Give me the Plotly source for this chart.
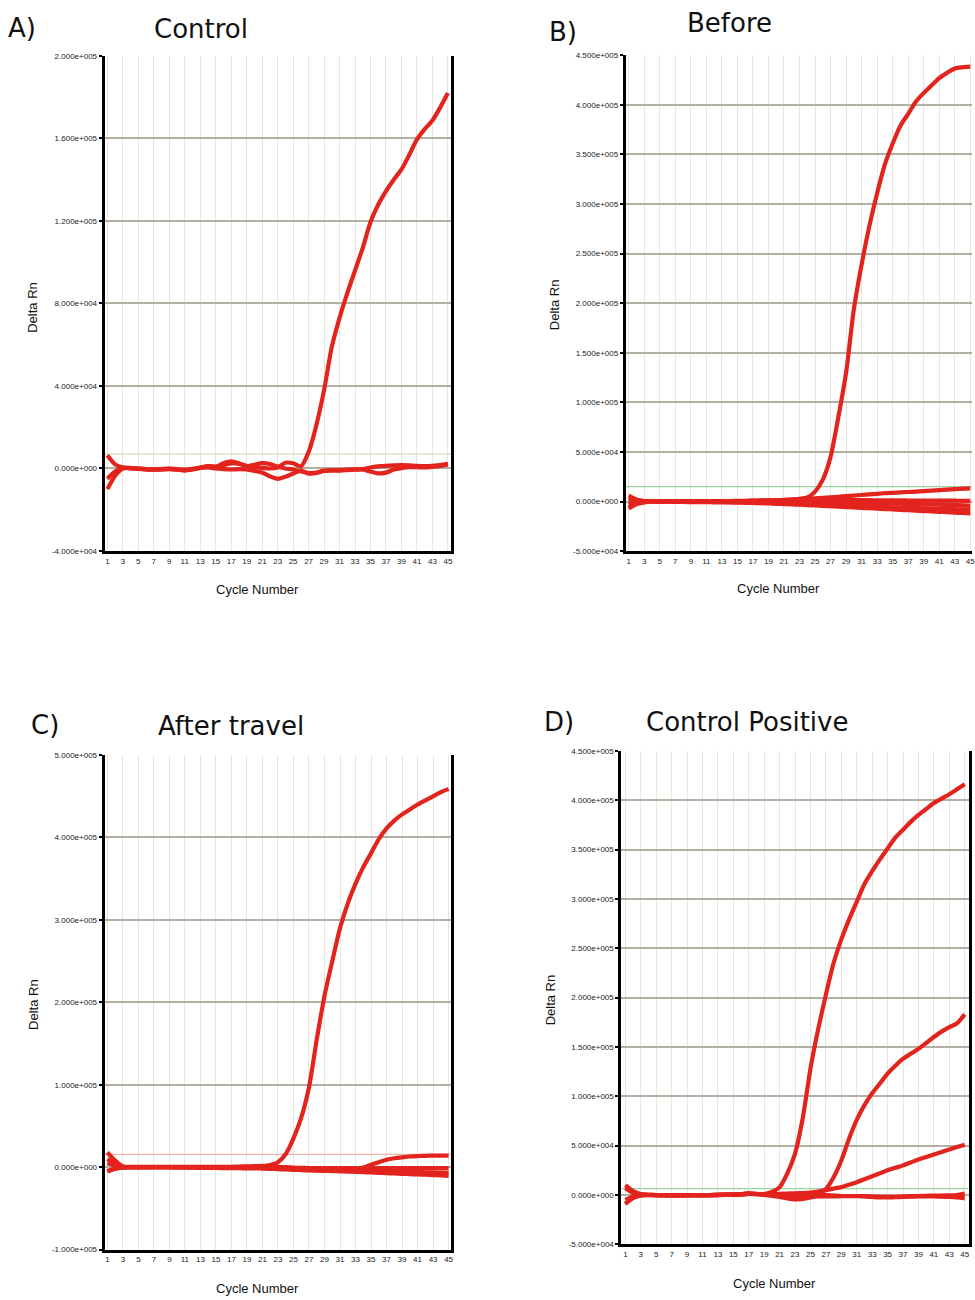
import plotly.graph_objects as go

# ---------------- data (Delta Rn values in thousands) ----------------
cycles = list(range(1, 46))
x_ticks = [1, 3, 5, 7, 9, 11, 13, 15, 17, 19, 21, 23, 25, 27, 29, 31, 33, 35, 37, 39, 41, 43, 45]

# Panel A - Control
A_amp = [-5, -1.5, 0.3, 0.3, 0, -0.3, -0.5, -0.4, -0.2, -0.6, -0.8, -0.3, 0.5, 1.2, 0.8, 1.5, 2.5, 2.2, 1.2, 0.5,
         0.3, 0, 0.5, 2.8, 2.5, 1.0, 8, 21, 38, 59, 73, 85, 96, 107, 119.5, 128, 134.5, 140, 145, 152,
         159.5, 164.5, 168.7, 175, 182]
A_f1 = [6.4, 2, 0.5, 0, -0.2, -0.5, -0.6, -0.5, -0.3, -0.5, -1, -0.5, 0.3, 1, 0.8, 2.5, 3.4, 2.5, 1.2, 1.8,
        2.6, 2.2, 0.8, 0, -0.5, -1.5, -2.2, -2, -1, -0.8, -1, -0.8, -0.6, -0.3, 0.5, 1, 1.3, 1.5, 1.6, 1.5,
        1.3, 1.2, 1.3, 1.6, 2.2]
A_f2 = [-10, -3.5, 0, 0.2, 0, -0.4, -0.5, -0.3, 0, -0.3, -0.6, -0.2, 0.3, 0.5, 0, -0.3, -0.5, -0.3, -0.5, -1.2,
        -2, -3.8, -5, -4, -2.5, -1, -2.5, -2.2, -1.2, -1, -0.8, -0.6, -0.4, -0.5, -1.5, -2.4, -2, -0.5, 0.2, 0.6,
        0.6, 0.5, 0.8, 1.2, 2]
A_threshold = 7
A_yticks = [-40000, 0, 40000, 80000, 120000, 160000, 200000]

# Panel B - Before
B_amp = [-7, -2.5, -0.5, 0, 0, 0, 0, 0, 0, 0, 0, 0, 0, 0.2, 0.3, 0.5, 0.6, 0.8, 1, 1.2,
         1.5, 2, 2.8, 4, 10, 22, 45, 85, 130, 194, 239, 278, 311, 340, 361, 379, 391, 403.5, 412, 419.6,
         427, 432.3, 436.8, 438, 438.6]
B_rise = [6, 2, 0.5, 0.2, 0.2, 0.3, 0.3, 0.3, 0.3, 0.3, 0.4, 0.4, 0.5, 0.5, 0.6, 0.7, 0.8, 1, 1.2, 1.4,
          1.7, 2, 2.4, 2.8, 3.3, 3.8, 4.3, 4.8, 5.4, 6, 6.6, 7.2, 7.8, 8.4, 8.8, 9.2, 9.6, 10, 10.5, 11,
          11.5, 12, 12.5, 13, 13.3]
B_b1 = [3, 1, 0.3, 0.2, 0.2, 0.3, 0.3, 0.3, 0.2, 0.2, 0.2, 0.2, 0.2, 0.3, 0.4, 0.5, 0.6, 0.8, 1, 1.2,
        1.4, 1.5, 1.6, 1.6, 1.6, 1.6, 1.5, 1.5, 1.4, 1.4, 1.3, 1.3, 1.2, 1.2, 1.1, 1.1, 1, 1, 1, 0.9,
        0.9, 0.8, 0.8, 0.7, 0.6]
B_b2 = [0, -0.5, -0.2, 0, 0, 0, 0, 0, -0.1, -0.1, -0.2, -0.2, -0.2, -0.2, -0.2, -0.2, -0.3, -0.3, -0.4, -0.5,
        -0.6, -0.7, -0.8, -0.9, -1, -1.1, -1.2, -1.3, -1.4, -1.5, -1.6, -1.7, -1.8, -1.9, -2, -2.2, -2.4, -2.6, -2.8, -3,
        -3.2, -3.4, -3.6, -3.8, -4]
B_b3 = [-3, -1, -0.5, -0.3, -0.3, -0.3, -0.3, -0.3, -0.3, -0.4, -0.4, -0.5, -0.5, -0.6, -0.7, -0.8, -0.9, -1.1, -1.3, -1.5,
        -1.7, -2, -2.3, -2.6, -3, -3.3, -3.6, -3.9, -4.2, -4.5, -4.8, -5.1, -5.4, -5.6, -5.8, -6, -6.3, -6.6, -6.9, -7.1,
        -7.3, -7.5, -7.7, -7.9, -8]
B_b4 = [-6.5, -2.5, -0.8, -0.5, -0.5, -0.5, -0.5, -0.5, -0.6, -0.6, -0.7, -0.8, -0.9, -1, -1.1, -1.3, -1.5, -1.7, -2, -2.3,
        -2.6, -2.9, -3.2, -3.6, -4, -4.4, -4.8, -5.2, -5.6, -6, -6.4, -6.8, -7.2, -7.6, -8, -8.4, -8.8, -9.2, -9.6, -10,
        -10.4, -10.8, -11.2, -11.6, -12]
B_threshold = 15
B_yticks = [-50000, 0, 50000, 100000, 150000, 200000, 250000, 300000, 350000, 400000, 450000]

# Panel C - After travel
C_amp = [-5, -1.5, -0.3, 0, 0, 0, 0.2, 0.2, 0.2, 0.2, 0.2, 0.2, 0.1, 0.1, 0, 0, 0, 0, 0.2, 0.5,
         1, 2.5, 6, 16, 35, 60, 97, 155, 208, 250, 290, 320, 344, 364, 381, 398, 411, 420.5, 428, 434,
         440, 445, 450, 455, 459]
C_rise = [10, 4, 0.5, 0, 0, 0, 0, 0, 0, 0, 0, 0, 0, 0, 0, -0.2, -0.3, -0.5, -0.6, -0.8,
          -1, -1.2, -1.4, -1.6, -1.8, -2, -2.2, -2.4, -2.5, -2.6, -2.6, -2.5, -2, -0.5, 3, 6, 9, 10.8, 12, 13,
          13.5, 13.8, 14, 14, 14]
C_b1 = [18, 8, 1, 0.5, 0.5, 0.5, 0.5, 0.5, 0.5, 0.5, 0.5, 0.5, 0.5, 0.5, 0.5, 0.5, 0.5, 0.8, 1, 1.2,
        1.5, 1, 0.5, 0, -0.5, -0.8, -1, -1, -1, -1, -1, -1, -1, -1, -1, -1, -1, -1, -1, -1,
        -1, -1.2, -1.2, -1.2, -1.2]
C_b2 = [5, 2, 0, 0, 0, 0, 0, 0, 0, 0, 0, 0, -0.2, -0.2, -0.3, -0.4, -0.5, -0.6, -0.7, -0.8,
        -1, -1.3, -1.6, -2, -2.3, -2.6, -3, -3.3, -3.5, -3.7, -4, -4.2, -4.4, -4.6, -4.8, -5, -5.2, -5.4, -5.6, -5.8,
        -6, -6.2, -6.4, -6.6, -6.8]
C_b3 = [-5, -2, -0.5, -0.3, -0.3, -0.3, -0.3, -0.3, -0.4, -0.5, -0.6, -0.7, -0.8, -0.9, -1, -1.1, -1.2, -1.3, -1.4, -1.5,
        -1.7, -2, -2.4, -2.8, -3.2, -3.6, -4, -4.3, -4.5, -4.7, -5, -5.3, -5.6, -6, -6.4, -6.8, -7.2, -7.6, -8, -8.4,
        -8.8, -9.2, -9.6, -10, -10.5]
C_threshold = 15.5
C_yticks = [-100000, 0, 100000, 200000, 300000, 400000, 500000]

# Panel D - Control Positive
D_amp1 = [-9, -3, -0.5, 0, 0, -0.2, -0.3, -0.3, -0.2, 0, 0, 0, 0.2, 0.3, 0.5, 0.8, 1.2, 0.8, 1, 3,
          8, 22, 42, 78, 128, 168, 203, 235, 259, 279, 297, 315, 328, 340, 351, 362, 370, 378, 385, 391,
          397, 401.5, 406, 411, 416]
D_amp2 = [-5, -1.5, 0, 0, 0, 0, 0, -0.2, -0.2, 0, 0, 0, 0.2, 0.3, 0.5, 0.8, 1.5, 1, 0.5, 0,
          -1, -2.5, -3.5, -3, -1.5, 1, 6, 18, 35, 57, 76, 91, 103, 113, 123, 131, 138, 143, 148, 154,
          160, 165.5, 170, 174, 183]
D_amp3 = [10, 4, 1, 0.3, 0, 0, 0, 0, 0, 0, 0, 0, 0.3, 0.5, 0.6, 0.8, 1, 1, 1, 1,
          1.2, 1.5, 1.8, 2, 2.5, 3.5, 5, 6.5, 8, 10.5, 13, 16, 19, 22, 25, 27.5, 30, 33, 36, 38.5,
          41, 43.5, 46, 48.5, 51]
D_f1 = [7, 2, 0.3, 0, -0.3, -0.5, -0.5, -0.3, -0.3, -0.5, -0.5, -0.3, 0, 0.3, 0.2, 0.8, 2, 1.2, 0.5, 0,
        -0.5, -1, -1.5, -1.5, -0.8, 0, 0, -0.5, -1, -1, -1, -1.2, -1.5, -1.8, -2, -1.8, -1.5, -1.2, -1, -0.8,
        -0.6, -0.5, -0.3, 0, 1.5]
D_f2 = [-9, -3, -0.5, -0.2, -0.3, -0.5, -0.7, -0.7, -0.5, -0.5, -0.7, -0.5, -0.3, 0, 0, 0.3, 1, 0.8, 0, -1,
        -2, -3.5, -4.5, -4, -2.5, -1.5, -1.5, -1.5, -1.2, -1.2, -1.2, -1.5, -2, -2.5, -2.5, -2.2, -2, -1.8, -1.5, -1.5,
        -1.5, -1.8, -2, -2.5, -3.5]
D_threshold = 6.5
D_yticks = [-50000, 0, 50000, 100000, 150000, 200000, 250000, 300000, 350000, 400000, 450000]

# ---------------- layout helpers ----------------
W, H = 975, 1300
RED = '#e3231d'
GRID_H = '#b3afa2'
GRID_V = '#e6e6dc'


def px(x):
    return x / W


def py(y):
    return 1 - y / H


def sci(v):
    m, e = f"{v:.3e}".split('e')
    return f"{m}e{e[0]}{int(e[1:]):03d}"


panels = [
    dict(key='', curves=[A_amp, A_f1, A_f2], thr=A_threshold, thr_col='#c9dcc0', yticks=A_yticks,
         xdom=(105, 452.7), ydom=(550.8, 52.3), xr=(0.652, 45.438), mirror=True,
         letter='A)', lpos=(22.5, 24), title='Control', tpos=(201.5, 25),
         ytpos=(33, 305), xtpos=(258, 590)),
    dict(key='2', curves=[B_amp, B_rise, B_b1, B_b2, B_b3, B_b4], thr=B_threshold, thr_col='#9bd39b',
         yticks=B_yticks, xdom=(627.7, 975), ydom=(550.9, 51.7), xr=(0.615, 45.22), mirror=False,
         letter='B)', lpos=(565, 28), title='Before', tpos=(731.7, 19),
         ytpos=(557, 303), xtpos=(781, 589)),
    dict(key='3', curves=[C_amp, C_rise, C_b1, C_b2, C_b3], thr=C_threshold, thr_col='#f2b3ab',
         yticks=C_yticks, xdom=(105, 452.7), ydom=(1254.3, 756.3), xr=(0.653, 45.35), mirror=True,
         letter='C)', lpos=(45, 726), title='After travel', tpos=(232, 727),
         ytpos=(33, 1007), xtpos=(258, 1293)),
    dict(key='4', curves=[D_amp1, D_amp2, D_amp3, D_f1, D_f2], thr=D_threshold, thr_col='#9bd39b',
         yticks=D_yticks, xdom=(623.3, 971.7), ydom=(1249, 752), xr=(0.483, 45.517), mirror=True,
         letter='D)', lpos=(561, 723), title='Control Positive', tpos=(749, 723),
         ytpos=(552, 1003), xtpos=(777, 1288)),
]

fig = go.Figure()
annotations = []
layout_axes = {}

for p in panels:
    k = p['key']
    xa, ya = 'x' + k, 'y' + k
    # threshold line drawn as a data trace (below curves)
    fig.add_trace(go.Scatter(
        x=[p['xr'][0], p['xr'][1]], y=[p['thr'] * 1000, p['thr'] * 1000], xaxis=xa, yaxis=ya,
        mode='lines', line=dict(color=p['thr_col'], width=1.2), hoverinfo='skip', showlegend=False))
    for c in p['curves']:
        fig.add_trace(go.Scatter(
            x=cycles, y=[v * 1000 for v in c], xaxis=xa, yaxis=ya, mode='lines',
            line=dict(color=RED, width=4.2, shape='spline', smoothing=0.7),
            hoverinfo='skip', showlegend=False))
    yt = p['yticks']
    layout_axes['xaxis' + k] = dict(
        domain=[px(p['xdom'][0]), px(p['xdom'][1])], range=list(p['xr']), anchor=ya,
        tickmode='array', tickvals=x_ticks, ticktext=[str(t) for t in x_ticks],
        showgrid=True, gridcolor=GRID_V, gridwidth=1.2, zeroline=False,
        showline=True, linecolor='black', linewidth=3, ticks='', ticklen=0,
        ticklabeloverflow='allow',
        tickfont=dict(family='Liberation Sans, Arial', size=8, color='#222'))
    layout_axes['yaxis' + k] = dict(
        domain=[py(p['ydom'][0]), py(p['ydom'][1])], range=[yt[0], yt[-1]], anchor=xa,
        tickmode='array', tickvals=yt, ticktext=[sci(v) for v in yt],
        showgrid=True, gridcolor=GRID_H, gridwidth=2, zeroline=False,
        showline=True, linecolor='black', linewidth=3, mirror=p['mirror'],
        ticks='outside', ticklen=3, tickwidth=1.5, tickcolor='black',
        tickfont=dict(family='Liberation Sans, Arial', size=8, color='#222'))
    annotations += [
        dict(text=p['letter'], x=px(p['lpos'][0]), y=py(p['lpos'][1]), xref='paper', yref='paper',
             showarrow=False, xanchor='center', yanchor='middle',
             font=dict(family='DejaVu Sans', size=26, color='#111')),
        dict(text=p['title'], x=px(p['tpos'][0]), y=py(p['tpos'][1]), xref='paper', yref='paper',
             showarrow=False, xanchor='center', yanchor='middle',
             font=dict(family='DejaVu Sans', size=26, color='#111')),
        dict(text='Delta Rn', x=px(p['ytpos'][0]), y=py(p['ytpos'][1]), xref='paper', yref='paper',
             showarrow=False, xanchor='center', yanchor='middle', textangle=-90,
             font=dict(family='Liberation Sans, Arial', size=13, color='#111')),
        dict(text='Cycle Number', x=px(p['xtpos'][0]), y=py(p['xtpos'][1]), xref='paper', yref='paper',
             showarrow=False, xanchor='center', yanchor='middle',
             font=dict(family='Liberation Sans, Arial', size=13, color='#111')),
    ]

fig.update_layout(
    width=W, height=H, autosize=False,
    margin=dict(l=0, r=0, t=0, b=0, pad=0),
    paper_bgcolor='white', plot_bgcolor='white',
    showlegend=False, annotations=annotations,
    **layout_axes)

fig.write_html('out.html', config={'displayModeBar': False},
               post_script="document.body.style.margin='0';document.body.style.overflow='hidden';")
